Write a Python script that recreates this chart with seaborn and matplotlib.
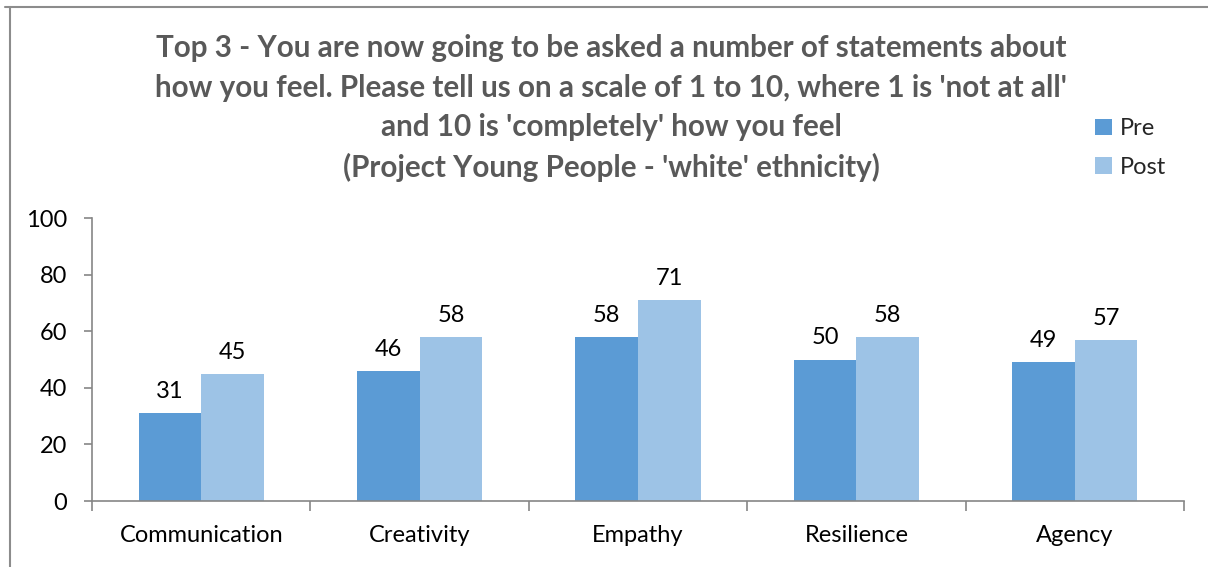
import matplotlib
matplotlib.use("Agg")
import matplotlib.pyplot as plt
from matplotlib.patches import Rectangle
from matplotlib.lines import Line2D
import seaborn as sns
import pandas as pd

categories = ["Communication", "Creativity", "Empathy", "Resilience", "Agency"]
pre_values = [31, 46, 58, 50, 49]
post_values = [45, 58, 71, 58, 57]
series_names = ["Pre", "Post"]
y_ticks = [0, 20, 40, 60, 80, 100]
title_text = ("Top 3 - You are now going to be asked a number of statements about\n"
              "how you feel. Please tell us on a scale of 1 to 10, where 1 is 'not at all'\n"
              "and 10 is 'completely' how you feel\n"
              "(Project Young People - 'white' ethnicity)")

df = pd.DataFrame({
    "category": categories * 2,
    "series": [series_names[0]] * len(categories) + [series_names[1]] * len(categories),
    "value": pre_values + post_values,
})

sns.set_theme(style="white")
plt.rcParams["font.family"] = ["Lato", "DejaVu Sans"]

colors = {"Pre": "#5B9BD5", "Post": "#9DC3E6"}
label_size = 17

fig = plt.figure(figsize=(12.08, 5.67), dpi=100)
ax = fig.add_axes([92 / 1208, 1 - 501 / 567, (1184 - 92) / 1208, (501 - 218) / 567])

sns.barplot(data=df, x="category", y="value", hue="series", order=categories,
            hue_order=series_names, palette=colors, width=0.573, saturation=1,
            linewidth=0, ax=ax, legend=False)

for container in ax.containers:
    ax.bar_label(container, fmt="%d", padding=8, fontsize=label_size, color="#000000")

ax.set_xlim(-0.5, len(categories) - 0.5)
ax.set_ylim(0, 100)
ax.set_yticks(y_ticks)
ax.set_xlabel("")
ax.set_ylabel("")

spine_color = "#868686"
for side in ["top", "right"]:
    ax.spines[side].set_visible(False)
for side in ["left", "bottom"]:
    ax.spines[side].set_color(spine_color)
    ax.spines[side].set_linewidth(1.2)

ax.tick_params(axis="y", which="major", left=True, length=6, width=1.2,
               color=spine_color, labelsize=label_size, labelcolor="#000000", pad=12)
ax.set_xticks(range(len(categories)))
ax.set_xticklabels(categories)
ax.set_xticks([i - 0.5 for i in range(len(categories) + 1)], minor=True)
ax.tick_params(axis="x", which="major", bottom=False, length=0,
               labelsize=label_size, labelcolor="#000000", pad=17)
ax.tick_params(axis="x", which="minor", bottom=True, length=7, width=1.2,
               color=spine_color)

fig.text(611 / 1208, 1 - 34 / 567, title_text, ha="center", va="top",
         fontsize=21.3, fontweight="bold", color="#595959", linespacing=1.5)

# legend
handles = [Rectangle((0, 0), 1, 1, facecolor=colors[s], edgecolor="none") for s in series_names]
fig.legend(handles, series_names, loc="upper left",
           bbox_to_anchor=(1074 / 1208, 1 - 97 / 567), frameon=False,
           fontsize=label_size, handlelength=0.7, handleheight=0.7,
           handletextpad=0.35, labelspacing=0.75)

# chart-area border
fig.add_artist(Line2D([5 / 1208, 1.0], [1 - 7 / 567, 1 - 7 / 567],
                      transform=fig.transFigure, color="#8c8c8c", linewidth=1.5))
fig.add_artist(Line2D([10 / 1208, 10 / 1208], [0.0, 1 - 7 / 567],
                      transform=fig.transFigure, color="#8c8c8c", linewidth=1.5))

fig.savefig("out.png", dpi=100, facecolor="white")
